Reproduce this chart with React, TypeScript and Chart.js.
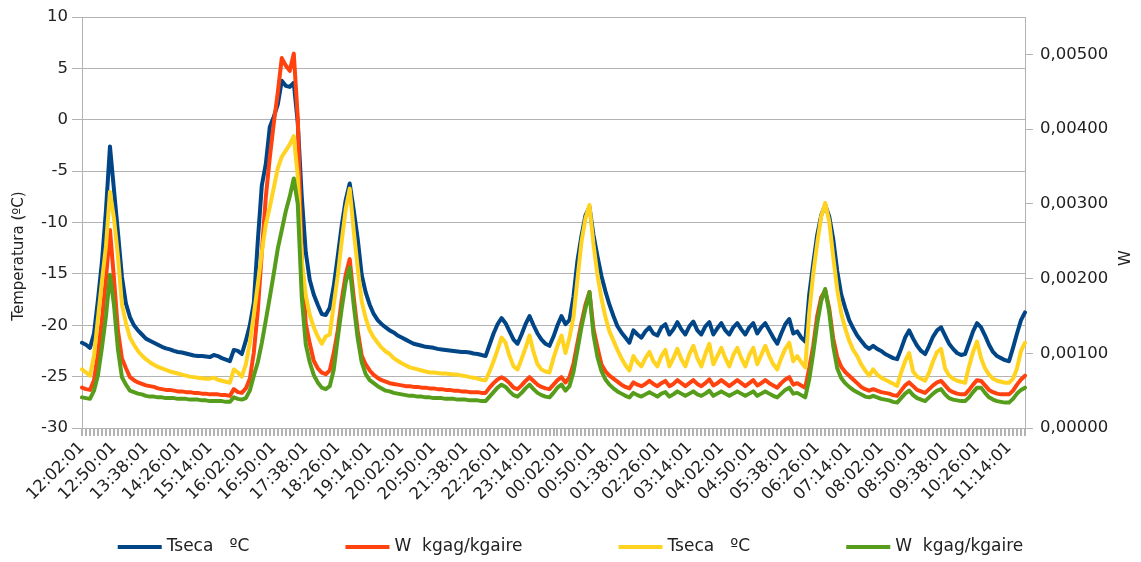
import React, { useEffect, useRef } from 'react';
import { Chart, registerables } from 'chart.js';

Chart.register(...registerables);

const FONT = '"DejaVu Sans", sans-serif';
const TEXT = '#222222';
const GRID = '#b3b3b3';

// Category labels (one every 6 minutes)
const times = [
  '12:02:01','12:08:01','12:14:01','12:20:01','12:26:01','12:32:01','12:38:01','12:44:01','12:50:01','12:56:01',
  '13:02:01','13:08:01','13:14:01','13:20:01','13:26:01','13:32:01','13:38:01','13:44:01','13:50:01','13:56:01',
  '14:02:01','14:08:01','14:14:01','14:20:01','14:26:01','14:32:01','14:38:01','14:44:01','14:50:01','14:56:01',
  '15:02:01','15:08:01','15:14:01','15:20:01','15:26:01','15:32:01','15:38:01','15:44:01','15:50:01','15:56:01',
  '16:02:01','16:08:01','16:14:01','16:20:01','16:26:01','16:32:01','16:38:01','16:44:01','16:50:01','16:56:01',
  '17:02:01','17:08:01','17:14:01','17:20:01','17:26:01','17:32:01','17:38:01','17:44:01','17:50:01','17:56:01',
  '18:02:01','18:08:01','18:14:01','18:20:01','18:26:01','18:32:01','18:38:01','18:44:01','18:50:01','18:56:01',
  '19:02:01','19:08:01','19:14:01','19:20:01','19:26:01','19:32:01','19:38:01','19:44:01','19:50:01','19:56:01',
  '20:02:01','20:08:01','20:14:01','20:20:01','20:26:01','20:32:01','20:38:01','20:44:01','20:50:01','20:56:01',
  '21:02:01','21:08:01','21:14:01','21:20:01','21:26:01','21:32:01','21:38:01','21:44:01','21:50:01','21:56:01',
  '22:02:01','22:08:01','22:14:01','22:20:01','22:26:01','22:32:01','22:38:01','22:44:01','22:50:01','22:56:01',
  '23:02:01','23:08:01','23:14:01','23:20:01','23:26:01','23:32:01','23:38:01','23:44:01','23:50:01','23:56:01',
  '00:02:01','00:08:01','00:14:01','00:20:01','00:26:01','00:32:01','00:38:01','00:44:01','00:50:01','00:56:01',
  '01:02:01','01:08:01','01:14:01','01:20:01','01:26:01','01:32:01','01:38:01','01:44:01','01:50:01','01:56:01',
  '02:02:01','02:08:01','02:14:01','02:20:01','02:26:01','02:32:01','02:38:01','02:44:01','02:50:01','02:56:01',
  '03:02:01','03:08:01','03:14:01','03:20:01','03:26:01','03:32:01','03:38:01','03:44:01','03:50:01','03:56:01',
  '04:02:01','04:08:01','04:14:01','04:20:01','04:26:01','04:32:01','04:38:01','04:44:01','04:50:01','04:56:01',
  '05:02:01','05:08:01','05:14:01','05:20:01','05:26:01','05:32:01','05:38:01','05:44:01','05:50:01','05:56:01',
  '06:02:01','06:08:01','06:14:01','06:20:01','06:26:01','06:32:01','06:38:01','06:44:01','06:50:01','06:56:01',
  '07:02:01','07:08:01','07:14:01','07:20:01','07:26:01','07:32:01','07:38:01','07:44:01','07:50:01','07:56:01',
  '08:02:01','08:08:01','08:14:01','08:20:01','08:26:01','08:32:01','08:38:01','08:44:01','08:50:01','08:56:01',
  '09:02:01','09:08:01','09:14:01','09:20:01','09:26:01','09:32:01','09:38:01','09:44:01','09:50:01','09:56:01',
  '10:02:01','10:08:01','10:14:01','10:20:01','10:26:01','10:32:01','10:38:01','10:44:01','10:50:01','10:56:01',
  '11:02:01','11:08:01','11:14:01','11:20:01','11:26:01','11:32:01','11:38:01',
];

// Tseca ºC (blue, left axis)
const tsecaBlue = [
  -21.7, -21.9, -22.2, -20.8, -17.5, -13.8, -8.8, -2.6, -6.8, -11.0,
  -15.3, -17.9, -19.2, -20.0, -20.5, -20.9, -21.3, -21.5, -21.7, -21.9,
  -22.1, -22.25, -22.35, -22.5, -22.6, -22.65, -22.75, -22.85, -22.95, -23.0,
  -23.0, -23.05, -23.1, -22.9, -23.0, -23.2, -23.35, -23.5, -22.4, -22.5,
  -22.8, -21.5, -20.0, -17.8, -11.8, -6.4, -4.3, -0.7, 0.3, 1.5,
  3.8, 3.3, 3.2, 3.6, -0.3, -7.5, -12.9, -15.6, -17.0, -18.0,
  -18.9, -19.0, -18.3, -16.2, -13.3, -10.3, -7.8, -6.2, -8.8, -11.6,
  -15.1, -16.8, -18.0, -18.9, -19.5, -19.9, -20.2, -20.5, -20.7, -21.0,
  -21.2, -21.4, -21.6, -21.8, -21.9, -22.0, -22.1, -22.15, -22.2, -22.3,
  -22.35, -22.4, -22.45, -22.5, -22.55, -22.6, -22.6, -22.65, -22.75, -22.8,
  -22.9, -23.0, -21.9, -20.8, -19.9, -19.3, -19.8, -20.6, -21.4, -21.8,
  -20.9, -19.9, -19.1, -20.0, -20.8, -21.4, -21.8, -22.0, -21.1, -20.0,
  -19.1, -19.9, -19.5, -17.2, -13.7, -11.3, -9.3, -8.5, -11.2, -13.3,
  -15.2, -16.7, -18.0, -19.1, -20.1, -20.7, -21.2, -21.7,
  -20.5, -20.9, -21.2, -20.6, -20.2, -20.8, -21.0, -20.2, -19.9, -20.9,
  -20.4, -19.7, -20.4, -20.9, -20.1, -19.65, -20.5, -20.9, -20.1, -19.7,
  -20.9, -20.3, -19.8, -20.5, -20.9, -20.2, -19.8, -20.4, -20.9, -20.2,
  -19.8, -20.8, -20.2, -19.8, -20.5, -21.2, -21.8, -20.8, -19.9, -19.4,
  -20.8, -20.6, -21.2, -21.6, -17.0, -14.0, -11.2, -9.3, -8.3, -9.4,
  -11.6, -14.7, -17.0, -18.3, -19.5, -20.3, -21.0, -21.5, -22.0, -22.3,
  -22.0, -22.3, -22.5, -22.8, -23.0, -23.2, -23.3, -22.3, -21.2, -20.5,
  -21.3, -22.0, -22.5, -22.8, -22.0, -21.1, -20.5, -20.2, -21.0, -21.8,
  -22.3, -22.7, -22.9, -22.8, -21.7, -20.6, -19.8, -20.2, -21.0, -21.9,
  -22.6, -23.0, -23.2, -23.4, -23.5, -22.2, -20.8, -19.5, -18.75,
];

// W kgag/kgaire (red, right axis)
const wRed = [
  0.00054, 0.00052, 0.00051, 0.00064, 0.00100, 0.00145, 0.00200, 0.00265, 0.00200, 0.00130,
  0.00093, 0.00080, 0.00068, 0.00064, 0.00061, 0.00059, 0.00057, 0.00056, 0.00055, 0.00053,
  0.00052, 0.00051, 0.00051, 0.00050, 0.00049, 0.00049, 0.00048, 0.00048, 0.00047, 0.00047,
  0.00046, 0.00046, 0.00045, 0.00045, 0.00045, 0.00044, 0.00044, 0.00043, 0.00052, 0.00048,
  0.00047, 0.00053, 0.00066, 0.00101, 0.00157, 0.00235, 0.00309, 0.00362, 0.00408, 0.00449,
  0.00495, 0.00485, 0.00478, 0.00501, 0.00415, 0.00222, 0.00140, 0.00113, 0.00090, 0.00080,
  0.00074, 0.00072, 0.00077, 0.00100, 0.00130, 0.00172, 0.00205, 0.00226, 0.00175, 0.00130,
  0.00097, 0.00085, 0.00077, 0.00071, 0.00067, 0.00064, 0.00062, 0.00060, 0.00059, 0.00058,
  0.00057, 0.00056, 0.00056, 0.00055, 0.00055, 0.00054, 0.00054, 0.00053, 0.00053, 0.00052,
  0.00052, 0.00051, 0.00051, 0.00050, 0.00050, 0.00049, 0.00049, 0.00048, 0.00048, 0.00048,
  0.00047, 0.00047, 0.00054, 0.00060, 0.00065, 0.00068, 0.00065, 0.00060, 0.00054, 0.00052,
  0.00057, 0.00063, 0.00068, 0.00063, 0.00058, 0.00055, 0.00053, 0.00052, 0.00058, 0.00064,
  0.00068, 0.00061, 0.00068, 0.00086, 0.00114, 0.00141, 0.00165, 0.00182, 0.00133, 0.00108,
  0.00085, 0.00076, 0.00070, 0.00066, 0.00062, 0.00058, 0.00055, 0.00053,
  0.00061, 0.00058, 0.00056, 0.00059, 0.00063, 0.00059, 0.00056, 0.00060, 0.00063, 0.00056,
  0.00059, 0.00064, 0.00060, 0.00056, 0.00060, 0.00064, 0.00059, 0.00056, 0.00060, 0.00065,
  0.00057, 0.00060, 0.00064, 0.00060, 0.00056, 0.00060, 0.00064, 0.00060, 0.00056, 0.00060,
  0.00064, 0.00057, 0.00060, 0.00064, 0.00060, 0.00057, 0.00054, 0.00060, 0.00065, 0.00068,
  0.00058, 0.00060, 0.00057, 0.00054, 0.00080, 0.00110, 0.00150, 0.00175, 0.00184, 0.00160,
  0.00120, 0.00095, 0.00082, 0.00075, 0.00070, 0.00065, 0.00060, 0.00055, 0.00052, 0.00050,
  0.00052, 0.00050, 0.00048, 0.00047, 0.00046, 0.00044, 0.00043, 0.00050, 0.00057, 0.00061,
  0.00056, 0.00051, 0.00049, 0.00047, 0.00052, 0.00057, 0.00061, 0.00063, 0.00057, 0.00051,
  0.00048, 0.00046, 0.00045, 0.00045, 0.00051, 0.00058, 0.00064, 0.00063, 0.00057, 0.00051,
  0.00048, 0.00046, 0.00045, 0.00045, 0.00045, 0.00050, 0.00058, 0.00065, 0.00070,
];

// Tseca ºC (yellow, left axis)
const tsecaYellow = [
  -24.3, -24.6, -24.9, -23.0, -19.3, -15.7, -12.3, -7.0, -9.6, -13.3,
  -18.0, -19.8, -21.2, -21.9, -22.5, -22.95, -23.3, -23.6, -23.85, -24.05,
  -24.2, -24.35, -24.5, -24.6, -24.7, -24.8, -24.9, -25.0, -25.05, -25.1,
  -25.15, -25.2, -25.2, -25.1, -25.3, -25.4, -25.5, -25.6, -24.3, -24.6,
  -25.0, -23.8, -21.7, -19.0, -16.0, -12.9, -10.2, -8.5, -6.6, -4.7,
  -3.6, -3.0, -2.4, -1.6, -5.5, -13.7, -17.1, -19.0, -20.2, -21.1,
  -21.8, -21.1, -20.9, -18.0, -15.2, -11.8, -8.7, -6.7, -10.8, -14.4,
  -17.7, -19.3, -20.5, -21.2, -21.7, -22.2, -22.55, -22.8, -23.2, -23.45,
  -23.7, -23.9, -24.1, -24.2, -24.3, -24.4, -24.5, -24.6, -24.6, -24.65,
  -24.7, -24.7, -24.75, -24.8, -24.8, -24.9, -24.95, -25.05, -25.1, -25.2,
  -25.3, -25.35, -24.5, -23.5, -22.4, -21.2, -21.7, -23.0, -24.0, -24.3,
  -23.3, -22.2, -21.0, -22.6, -23.8, -24.3, -24.5, -24.6, -23.2, -22.0,
  -21.0, -22.7, -21.2, -19.2, -15.5, -11.9, -9.6, -8.3, -12.1, -15.1,
  -17.4, -19.2, -20.6, -21.5, -22.4, -23.2, -23.9, -24.4,
  -23.0, -23.6, -24.0, -23.2, -22.6, -23.5, -24.0, -23.0, -22.4, -24.0,
  -23.2, -22.3, -23.3, -24.0, -22.8, -22.0, -23.2, -24.0, -22.8, -21.8,
  -23.8, -23.0, -22.2, -23.2, -24.0, -22.9, -22.2, -23.2, -24.0, -22.9,
  -22.2, -23.8, -22.9, -22.0, -23.0, -23.8, -24.3, -23.2, -22.3, -21.7,
  -23.5, -23.0, -23.6, -24.1, -18.8, -15.0, -12.0, -9.4, -8.1, -9.9,
  -13.3, -16.5, -18.8, -20.3, -21.5, -22.4, -23.0, -23.8, -24.4, -24.9,
  -24.3, -24.8, -25.1, -25.3, -25.5, -25.7, -25.9, -24.6, -23.5, -22.7,
  -24.5, -25.0, -25.2, -25.4, -24.6, -23.5, -22.6, -22.3, -24.2, -24.9,
  -25.2, -25.4, -25.5, -25.6, -24.0, -22.6, -21.6, -23.2, -24.2, -24.8,
  -25.2, -25.4, -25.5, -25.6, -25.6, -25.2, -24.2, -22.5, -21.7,
];

// W kgag/kgaire (green, right axis)
const wGreen = [
  0.00041, 0.00040, 0.00039, 0.00050, 0.00071, 0.00108, 0.00150, 0.00205, 0.00165, 0.00105,
  0.00068, 0.00058, 0.00050, 0.00048, 0.00046, 0.00045, 0.00043, 0.00042, 0.00042, 0.00041,
  0.00041, 0.00040, 0.00040, 0.00040, 0.00039, 0.00039, 0.00039, 0.00038, 0.00038, 0.00038,
  0.00037, 0.00037, 0.00036, 0.00036, 0.00036, 0.00036, 0.00035, 0.00035, 0.00041, 0.00039,
  0.00038, 0.00040, 0.00050, 0.00070, 0.00088, 0.00114, 0.00144, 0.00175, 0.00207, 0.00240,
  0.00265, 0.00290, 0.00310, 0.00334, 0.00300, 0.00175, 0.00112, 0.00088, 0.00071, 0.00061,
  0.00054, 0.00052, 0.00056, 0.00078, 0.00120, 0.00160, 0.00195, 0.00215, 0.00165, 0.00120,
  0.00088, 0.00072, 0.00064, 0.00060, 0.00056, 0.00053, 0.00050, 0.00049, 0.00047, 0.00046,
  0.00045, 0.00044, 0.00043, 0.00043, 0.00042, 0.00042, 0.00041, 0.00041, 0.00040, 0.00040,
  0.00040, 0.00039, 0.00039, 0.00039, 0.00038, 0.00038, 0.00038, 0.00037, 0.00037, 0.00037,
  0.00036, 0.00036, 0.00042, 0.00048, 0.00054, 0.00058, 0.00055, 0.00049, 0.00044, 0.00042,
  0.00047, 0.00053, 0.00058, 0.00052, 0.00047, 0.00044, 0.00042, 0.00041, 0.00047, 0.00054,
  0.00058, 0.00050, 0.00056, 0.00075, 0.00105, 0.00135, 0.00160, 0.00182, 0.00125, 0.00095,
  0.00076, 0.00065, 0.00058, 0.00053, 0.00049, 0.00046, 0.00043, 0.00041,
  0.00047, 0.00044, 0.00042, 0.00045, 0.00048, 0.00045, 0.00042, 0.00046, 0.00048, 0.00042,
  0.00045, 0.00049, 0.00046, 0.00043, 0.00046, 0.00049, 0.00045, 0.00043, 0.00046, 0.00050,
  0.00043, 0.00046, 0.00049, 0.00046, 0.00043, 0.00046, 0.00049, 0.00046, 0.00043, 0.00046,
  0.00049, 0.00043, 0.00046, 0.00049, 0.00046, 0.00043, 0.00041, 0.00046, 0.00051, 0.00054,
  0.00046, 0.00047, 0.00044, 0.00041, 0.00065, 0.00100, 0.00140, 0.00170, 0.00186, 0.00155,
  0.00110, 0.00080, 0.00067, 0.00060, 0.00055, 0.00051, 0.00048, 0.00045, 0.00042, 0.00041,
  0.00043, 0.00041, 0.00039, 0.00038, 0.00037, 0.00035, 0.00034, 0.00040, 0.00046, 0.00050,
  0.00044, 0.00040, 0.00038, 0.00036, 0.00041, 0.00046, 0.00050, 0.00052, 0.00045, 0.00040,
  0.00038, 0.00037, 0.00036, 0.00036, 0.00041, 0.00048, 0.00054, 0.00054, 0.00047, 0.00041,
  0.00038, 0.00036, 0.00035, 0.00034, 0.00034, 0.00039, 0.00046, 0.00051, 0.00054,
];

const seriesLabels = ['Tseca   ºC', 'W  kgag/kgaire', 'Tseca   ºC', 'W  kgag/kgaire'];
const seriesColors = ['#004586', '#ff420e', '#ffd320', '#579d1c'];
const leftAxisTitle = 'Temperatura (ºC)';
const rightAxisTitle = 'W';
const labelEvery = 8;

const overlayPlugin = {
  id: 'overlay',
  afterDraw(chart: any) {
    const ctx = chart.ctx;
    ctx.save();
    ctx.fillStyle = TEXT;
    ctx.textAlign = 'center';
    ctx.textBaseline = 'middle';
    ctx.font = `15px ${FONT}`;
    ctx.save();
    ctx.translate(19, 256);
    ctx.rotate(-Math.PI / 2);
    ctx.fillText(leftAxisTitle, 0, 0);
    ctx.restore();
    ctx.font = `16px ${FONT}`;
    ctx.save();
    ctx.translate(1126, 258);
    ctx.rotate(-Math.PI / 2);
    ctx.fillText(rightAxisTitle, 0, 0);
    ctx.restore();

    // legend
    ctx.font = `17px ${FONT}`;
    const sw = 44;
    const gapText = 5;
    const gapItem = 96;
    const widths = seriesLabels.map((l) => sw + gapText + ctx.measureText(l).width);
    const total = widths.reduce((a: number, b: number) => a + b, 0) + gapItem * (widths.length - 1);
    let x = (chart.width - total) / 2;
    const y = 547;
    ctx.textAlign = 'left';
    seriesLabels.forEach((l, i) => {
      ctx.fillStyle = seriesColors[i];
      ctx.fillRect(x, y - 2, sw, 4);
      ctx.fillStyle = TEXT;
      ctx.fillText(l, x + sw + gapText, y);
      x += widths[i] + gapItem;
    });
    ctx.restore();
  },
};

export default function App() {
  const ref = useRef<HTMLCanvasElement | null>(null);
  useEffect(() => {
    if (!ref.current) return;
    const common = {
      borderWidth: 4,
      pointRadius: 0,
      tension: 0,
      fill: false,
      borderJoinStyle: 'round' as const,
      borderCapStyle: 'round' as const,
    };
    const tickFont = { family: FONT, size: 16.5 };
    const chart = new Chart(ref.current, {
      type: 'line',
      data: {
        labels: times,
        datasets: [
          { ...common, label: seriesLabels[0], data: tsecaBlue, yAxisID: 'yT', borderColor: seriesColors[0], backgroundColor: seriesColors[0], order: 4 },
          { ...common, label: seriesLabels[1], data: wRed, yAxisID: 'yW', borderColor: seriesColors[1], backgroundColor: seriesColors[1], order: 3 },
          { ...common, label: seriesLabels[2], data: tsecaYellow, yAxisID: 'yT', borderColor: seriesColors[2], backgroundColor: seriesColors[2], order: 2 },
          { ...common, label: seriesLabels[3], data: wGreen, yAxisID: 'yW', borderColor: seriesColors[3], backgroundColor: seriesColors[3], order: 1 },
        ],
      },
      options: {
        responsive: false,
        animation: false,
        layout: { padding: { top: 17, left: 0, right: 0, bottom: 0 } },
        plugins: {
          legend: { display: false },
          tooltip: { enabled: false },
          title: { display: false },
        },
        scales: {
          x: {
            type: 'category',
            grid: { drawOnChartArea: false, drawTicks: true, tickLength: 8, color: GRID, lineWidth: 2 },
            border: { color: GRID, width: 1 },
            ticks: {
              autoSkip: false,
              minRotation: 45,
              maxRotation: 45,
              padding: 2,
              color: TEXT,
              font: tickFont,
              callback: (_v: any, i: number) => (i % labelEvery === 0 ? times[i] : ''),
            },
            afterFit: (s: any) => { s.height = 134; },
          },
          yT: {
            position: 'left',
            min: -30,
            max: 10,
            ticks: { stepSize: 5, color: TEXT, font: tickFont, padding: 4 },
            grid: { color: GRID, lineWidth: 1, tickLength: 10 },
            border: { color: GRID },
            afterFit: (s: any) => { s.width = 82; },
          },
          yW: {
            position: 'right',
            min: 0,
            max: 0.0055,
            ticks: {
              stepSize: 0.001,
              includeBounds: false,
              color: TEXT,
              font: tickFont,
              padding: 7,
              callback: (v: any) => Number(v).toFixed(5).replace('.', ','),
            },
            grid: { drawOnChartArea: false, color: GRID, tickLength: 8 },
            border: { color: GRID },
            afterFit: (s: any) => { s.width = 116; },
          },
        },
      } as any,
      plugins: [overlayPlugin],
    });
    return () => chart.destroy();
  }, []);
  return (
    <canvas
      ref={ref}
      width={1141}
      height={562}
      style={{ position: 'fixed', left: 0, top: 0, display: 'block' }}
    />
  );
}
